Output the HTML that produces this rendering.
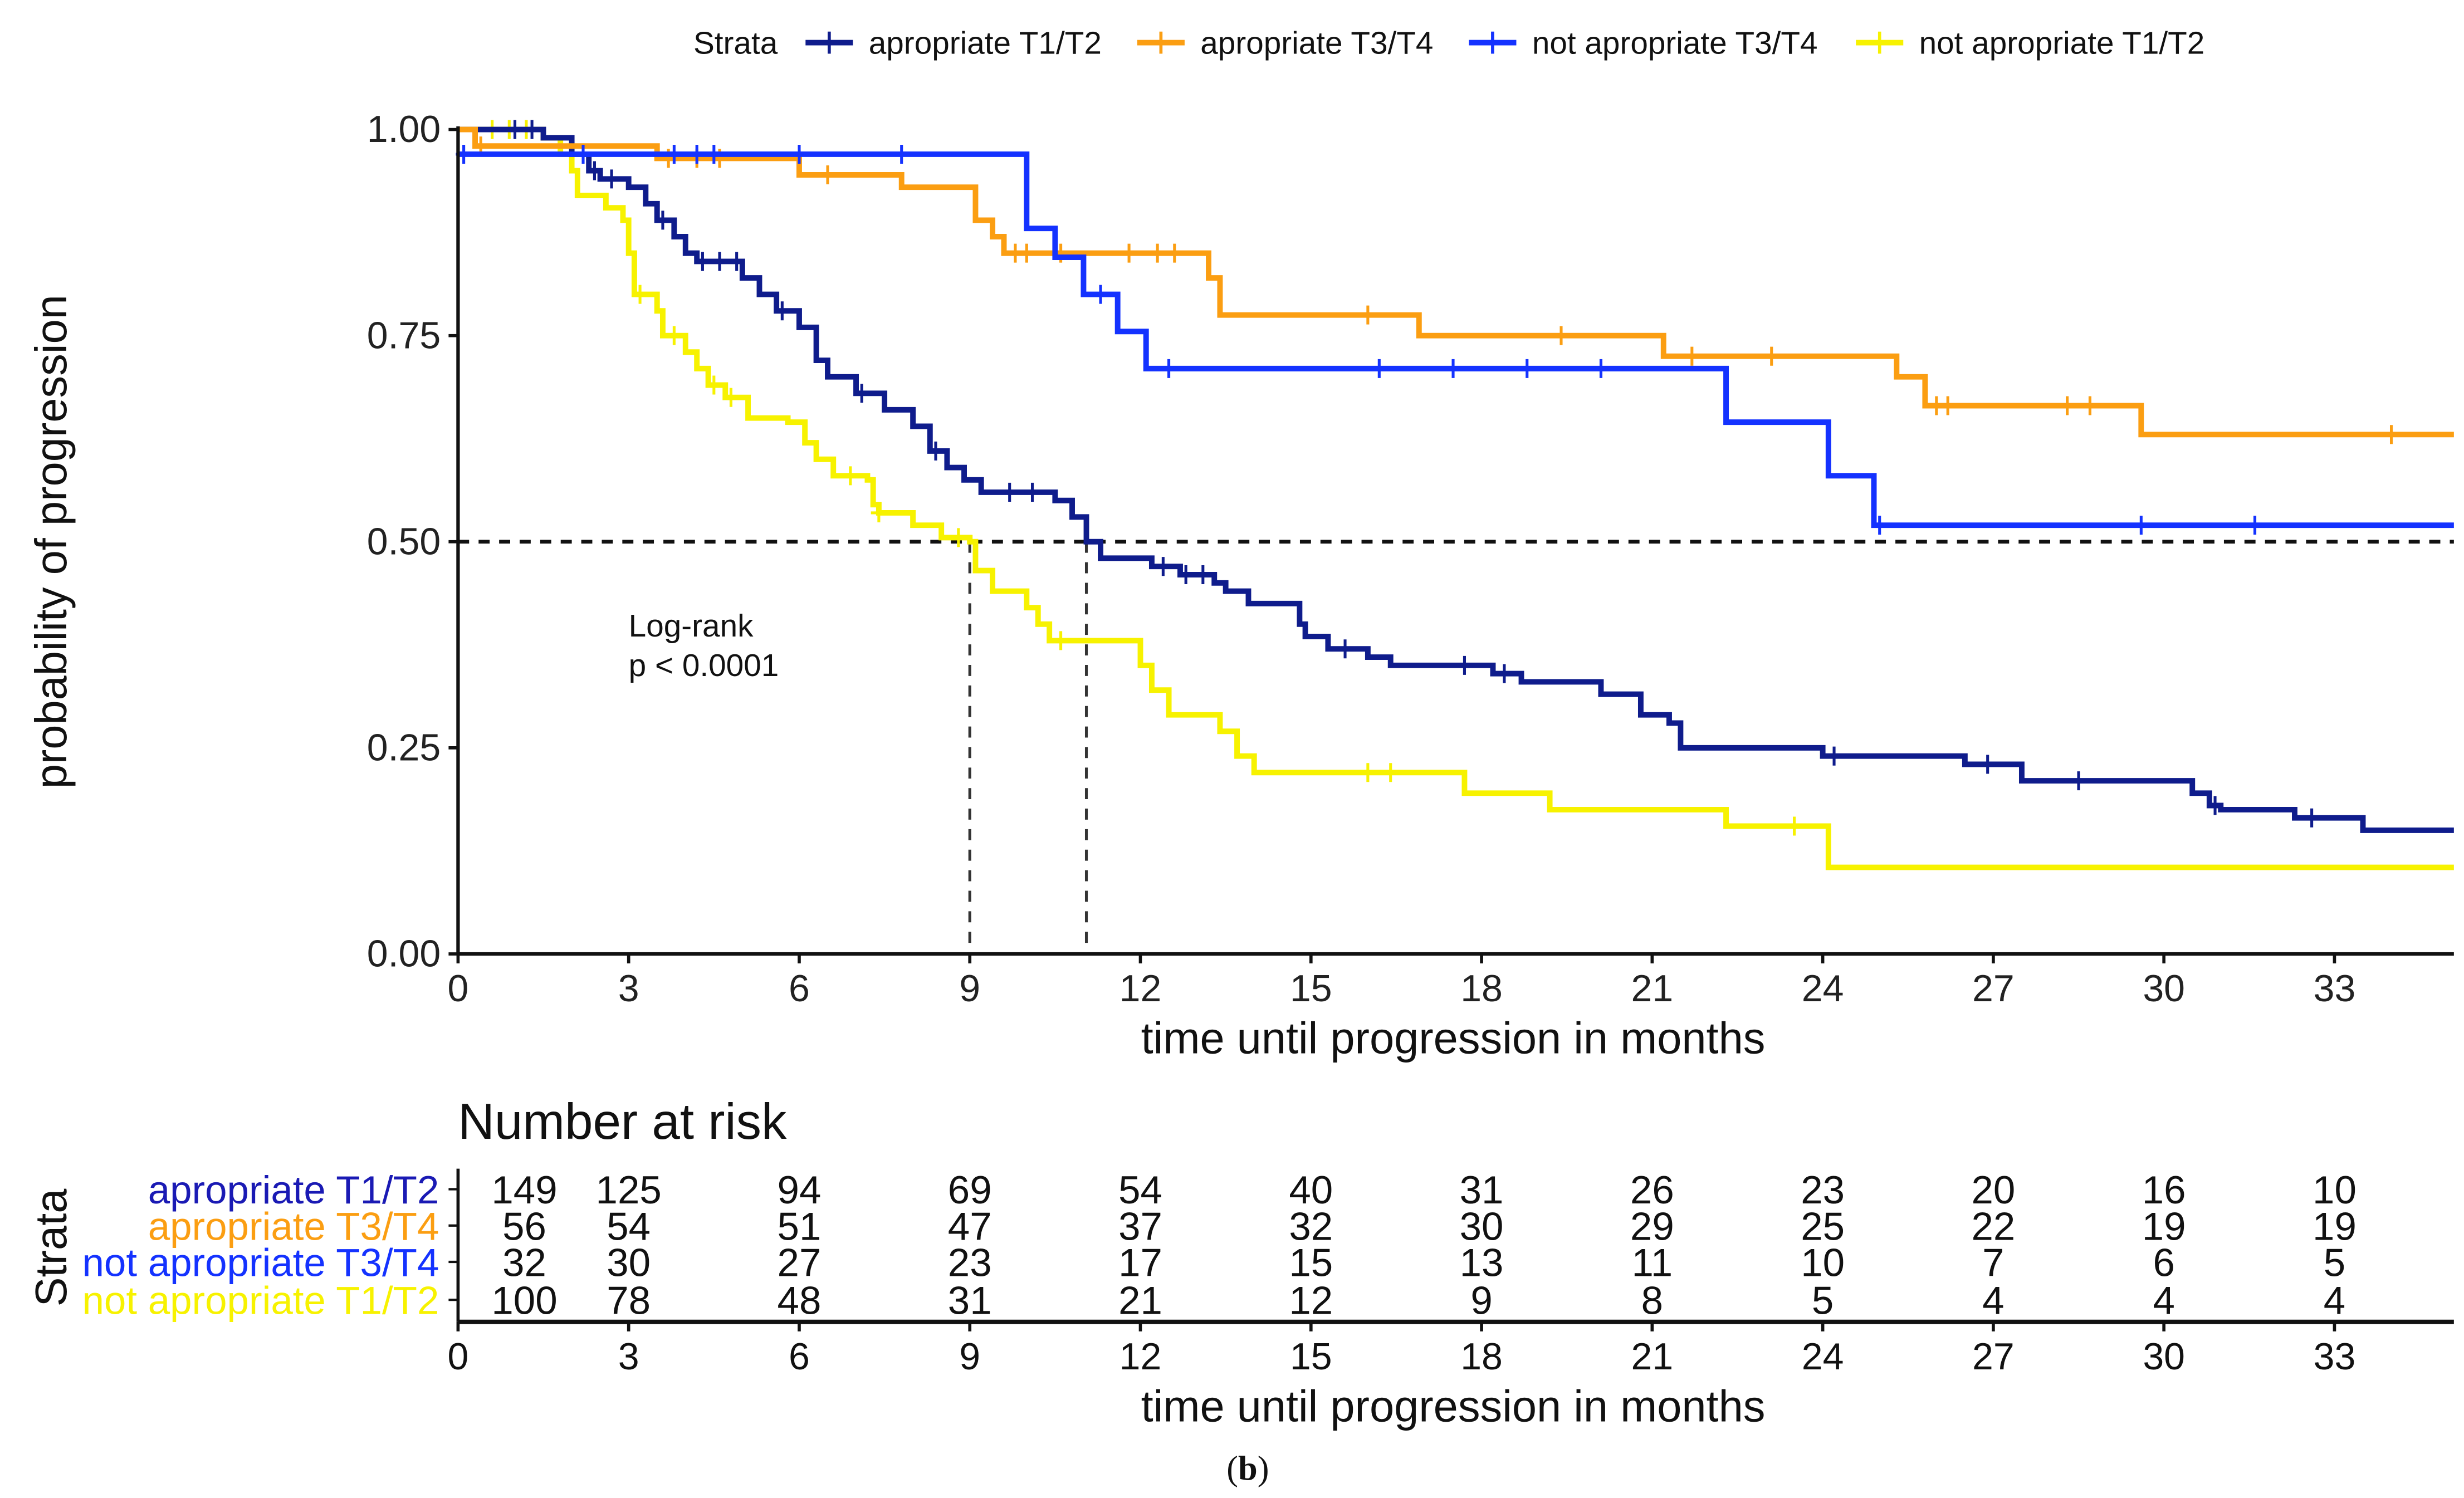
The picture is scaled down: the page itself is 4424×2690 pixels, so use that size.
<!DOCTYPE html>
<html><head><meta charset="utf-8"><style>
html,body{margin:0;padding:0;background:#fff;}
svg{display:block;font-family:"Liberation Sans",Arial,sans-serif;}
</style></head><body>
<svg id="chart" width="4424" height="2690" viewBox="0 0 1560 948.5" preserveAspectRatio="none" xmlns="http://www.w3.org/2000/svg">
<rect width="1560" height="948.5" fill="#fff"/>
<g id="legend" font-size="20" fill="#111">
 <text x="439" y="34">Strata</text>
</g>
<g id="plot"></g>
<g id="axes"></g>
<text x="42" y="343" transform="rotate(-90 42 343)" text-anchor="middle" font-size="28" fill="#111">probability of progression</text>
<text x="920" y="667" text-anchor="middle" font-size="28" fill="#111">time until progression in months</text>
<text x="398" y="403" font-size="20" fill="#111">Log-rank</text>
<text x="398" y="428" font-size="20" fill="#111">p &lt; 0.0001</text>
<text x="290" y="721" font-size="32" fill="#111">Number at risk</text>
<text x="42" y="790" transform="rotate(-90 42 790)" text-anchor="middle" font-size="28" fill="#111">Strata</text>
<g id="risk"></g>
<text x="920" y="900" text-anchor="middle" font-size="28" fill="#111">time until progression in months</text>
<text x="790" y="937" text-anchor="middle" font-size="22" font-family="Liberation Serif,serif" fill="#111">(<tspan font-weight="bold">b</tspan>)</text>
</svg>
<script>
const NS="http://www.w3.org/2000/svg";
const seriesNames=["apropriate T1/T2","apropriate T3/T4","not apropriate T3/T4","not apropriate T1/T2"];
const seriesColors=["#0f1c8c","#fb9e12","#1432ff","#f7f200"];
const t1t2Times=[0,1.5,2,2.3,2.5,3,3.3,3.5,3.8,4,4.2,5,5.3,5.6,6,6.3,6.5,7,7.5,8,8.3,8.6,8.9,9.2,10.5,10.8,11.05,11.3,12.2,12.7,13.3,13.5,13.9,14.8,14.9,15.3,16,16.4,18.2,18.7,20.1,20.8,21.3,21.5,24,26.5,27.5,30.5,30.8,31,32.3,33.5];
const t1t2Surv=[1,0.99,0.97,0.95,0.94,0.93,0.91,0.89,0.87,0.85,0.84,0.82,0.80,0.78,0.76,0.72,0.70,0.68,0.66,0.64,0.61,0.59,0.575,0.56,0.55,0.53,0.50,0.48,0.47,0.46,0.45,0.44,0.425,0.40,0.385,0.37,0.36,0.35,0.34,0.33,0.315,0.29,0.28,0.25,0.24,0.23,0.21,0.195,0.18,0.175,0.165,0.15];
const t3t4Times=[0,0.3,3.5,6,7.8,9.1,9.4,9.6,13.2,13.4,16.9,21.2,25.3,25.8,29.6];
const t3t4Surv=[1,0.98,0.965,0.945,0.93,0.89,0.87,0.85,0.82,0.775,0.75,0.725,0.70,0.665,0.63];
const nT3t4Times=[0,10,10.5,11,11.6,12.1,22.3,24.1,24.9];
const nT3t4Surv=[0.97,0.88,0.845,0.80,0.755,0.71,0.645,0.58,0.52];
const nT1t2Times=[0,1.5,1.8,2,2.1,2.6,2.9,3.0,3.1,3.5,3.6,4,4.2,4.4,4.7,5.1,5.8,6.1,6.3,6.6,7.2,7.3,7.4,8,8.5,9,9.1,9.4,10,10.2,10.4,12,12.2,12.5,13.4,13.7,14,17.7,19.2,22.3,24.1];
const nT1t2Surv=[1,0.99,0.97,0.95,0.92,0.905,0.89,0.85,0.80,0.78,0.75,0.73,0.71,0.69,0.675,0.65,0.645,0.62,0.60,0.58,0.575,0.545,0.535,0.52,0.505,0.50,0.465,0.44,0.42,0.40,0.38,0.35,0.32,0.29,0.27,0.24,0.22,0.195,0.175,0.155,0.105];
const t1t2Cens=[1,1.3,2.4,2.7,3.6,4.3,4.6,4.9,5.7,7.1,8.4,9.7,10.1,12.4,12.8,13.1,15.6,17.7,18.4,24.2,26.9,28.5,30.9,32.6];
const t3t4Cens=[0.4,3.7,4.2,4.6,6.5,9.8,10,10.6,11.8,12.3,12.6,16,19.4,21.7,23.1,26,26.2,28.3,28.7,34];
const nT3t4Cens=[0.1,2.2,3.8,4.2,4.5,6,7.8,11.3,12.5,16.2,17.5,18.8,20.1,25,29.6,31.6];
const nT1t2Cens=[0.6,0.9,1.2,3.2,3.8,4.5,4.8,6.9,7.4,8.8,10.6,16,16.4,23.5];
const allTimes=[t1t2Times,t3t4Times,nT3t4Times,nT1t2Times];
const allSurv=[t1t2Surv,t3t4Surv,nT3t4Surv,nT1t2Surv];
const allCens=[t1t2Cens,t3t4Cens,nT3t4Cens,nT1t2Cens];
const xTicks=[0,3,6,9,12,15,18,21,24,27,30,33];
const yTicks=[0,0.25,0.5,0.75,1];
const yTickLabels=["0.00","0.25","0.50","0.75","1.00"];
const medianTimes=[9,11.05];
const riskT1t2=[149,125,94,69,54,40,31,26,23,20,16,10];
const riskT3t4=[56,54,51,47,37,32,30,29,25,22,19,19];
const riskNT3t4=[32,30,27,23,17,15,13,11,10,7,6,5];
const riskNT1t2=[100,78,48,31,21,12,9,8,5,4,4,4];
const riskRows=[riskT1t2,riskT3t4,riskNT3t4,riskNT1t2];
const X0=290,XS=36,XMAX=35.1,Y0=604,YS=522;
const sx=t=>X0+t*XS, sy=s=>Y0-s*YS;
function mk(tag,attrs,parent){const e=document.createElementNS(NS,tag);for(const k in attrs)e.setAttribute(k,attrs[k]);parent.appendChild(e);return e;}
function survAt(ts,ss,t){let v=ss[0];for(let i=0;i<ts.length;i++){if(ts[i]<=t)v=ss[i];}return v;}
const plot=document.getElementById('plot'),axes=document.getElementById('axes'),legend=document.getElementById('legend'),risk=document.getElementById('risk');
const hl=mk('line',{x1:sx(0),x2:sx(XMAX),y1:sy(0.5),y2:sy(0.5),stroke:'#111','stroke-width':2.4,'stroke-dasharray':'7,6'},plot);


medianTimes.forEach(t=>{const l=mk('line',{x1:sx(t),x2:sx(t),y1:sy(0.5),y2:sy(0),stroke:'#333','stroke-width':1.8,'stroke-dasharray':'7,6'},plot);

});
[3,0,1,2].forEach(i=>{const ts=allTimes[i],ss=allSurv[i];let d=`M${sx(ts[0])},${sy(ss[0])}`;
for(let k=1;k<ts.length;k++){d+=` H${sx(ts[k])} V${sy(ss[k])}`;}d+=` H${sx(XMAX)}`;
const p=mk('path',{d:d,fill:'none',stroke:seriesColors[i],'stroke-width':3.5},plot);


allCens[i].forEach(t=>{const y=sy(survAt(ts,ss,t));const c=mk('path',{d:`M${sx(t)-5},${y} H${sx(t)+5} M${sx(t)},${y-6} V${y+6}`,stroke:seriesColors[i],'stroke-width':1.8},plot);

});});
mk('line',{x1:X0,x2:X0,y1:sy(1)-2,y2:Y0,stroke:'#111','stroke-width':2.2},axes);
mk('line',{x1:X0,x2:sx(XMAX),y1:Y0,y2:Y0,stroke:'#111','stroke-width':2.2},axes);
yTicks.forEach((v,i)=>{mk('line',{x1:X0-6,x2:X0,y1:sy(v),y2:sy(v),stroke:'#111','stroke-width':2},axes);
const t=mk('text',{x:X0-11,y:sy(v)+8,'text-anchor':'end','font-size':24,fill:'#222'},axes);t.textContent=yTickLabels[i];

});
xTicks.forEach(v=>{mk('line',{x1:sx(v),x2:sx(v),y1:Y0,y2:Y0+6,stroke:'#111','stroke-width':2},axes);
const t=mk('text',{x:sx(v),y:Y0+30,'text-anchor':'middle','font-size':24,fill:'#222'},axes);t.textContent=v;

});
const legX=[510,720,930,1175];
seriesNames.forEach((n,i)=>{const g=mk('g',{},legend);


mk('line',{x1:legX[i],x2:legX[i]+30,y1:27,y2:27,stroke:seriesColors[i],'stroke-width':3.5},g);
mk('line',{x1:legX[i]+15,x2:legX[i]+15,y1:20,y2:34,stroke:seriesColors[i],'stroke-width':2},g);
const t=mk('text',{x:legX[i]+40,y:34,'font-size':20,fill:'#111'},g);t.textContent=n;});
const rowY=[762,785,808,832];
const riskLabelColors=["#1a1ab4","#fb9e12","#1432ff","#f7f200"];
seriesNames.forEach((n,i)=>{const t=mk('text',{x:278,y:rowY[i],'text-anchor':'end','font-size':25,fill:riskLabelColors[i]},risk);t.textContent=n;


mk('line',{x1:284,x2:290,y1:rowY[i]-9,y2:rowY[i]-9,stroke:'#111','stroke-width':1.5},risk);
riskRows[i].forEach((v,k)=>{const x=k===0?332:sx(xTicks[k]);const c=mk('text',{x:x,y:rowY[i],'text-anchor':'middle','font-size':25,fill:'#111'},risk);c.textContent=v;

});});
mk('line',{x1:X0,x2:X0,y1:740,y2:837,stroke:'#111','stroke-width':2},risk);
mk('line',{x1:X0,x2:sx(XMAX),y1:837,y2:837,stroke:'#111','stroke-width':2.8},risk);
xTicks.forEach(v=>{mk('line',{x1:sx(v),x2:sx(v),y1:837,y2:843,stroke:'#111','stroke-width':2},risk);
const t=mk('text',{x:sx(v),y:867,'text-anchor':'middle','font-size':24,fill:'#111'},risk);t.textContent=v;

});
</script>
</body></html>
